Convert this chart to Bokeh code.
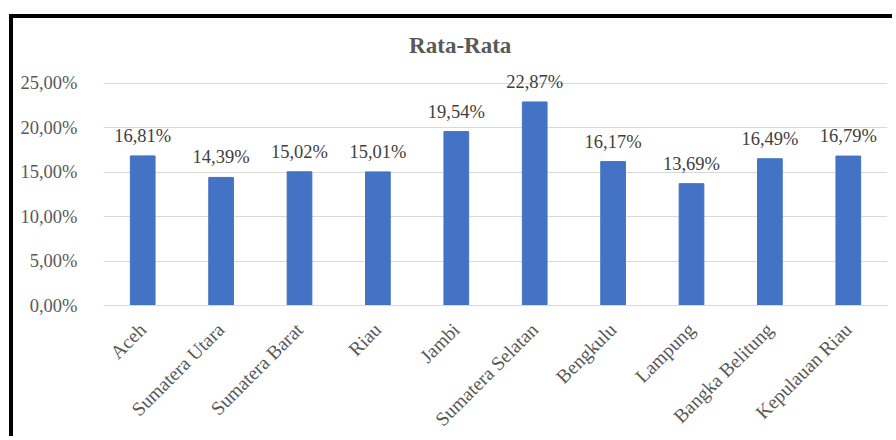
import math
from bokeh.plotting import figure
from bokeh.models import (ColumnDataSource, FactorRange, Range1d, FixedTicker,
                          CustomJSTickFormatter, Label)
from bokeh.core.properties import value
from bokeh.embed import file_html
from bokeh.resources import INLINE

categories = ["Aceh", "Sumatera Utara", "Sumatera Barat", "Riau", "Jambi",
              "Sumatera Selatan", "Bengkulu", "Lampung", "Bangka Belitung",
              "Kepulauan Riau"]
values = [16.81, 14.39, 15.02, 15.01, 19.54, 22.87, 16.17, 13.69, 16.49, 16.79]
y_ticks = [0, 5, 10, 15, 20, 25]
title_text = "Rata-Rata"

labels = [f"{v:.2f}".replace(".", ",") + "%" for v in values]
src = ColumnDataSource(dict(cat=categories, val=values, lab=labels))

FONT = "Liberation Serif"

p = figure(width=883, height=422, output_backend="svg", toolbar_location=None,
           x_range=FactorRange(*categories, range_padding=0),
           y_range=Range1d(0, 30.9),
           min_border_left=90, min_border_right=9,
           min_border_top=12, min_border_bottom=131)
p.margin = (14, 0, 0, 9)
p.styles = {"border-top": "4px solid black", "border-left": "4px solid black"}
p.x_range.factor_padding = 0
p.outline_line_color = None
p.background_fill_color = "white"
p.border_fill_color = "white"

p.vbar(x="cat", top="val", width=0.315, source=src,
       fill_color="#4472C4", line_color="#4472C4")

p.text(x="cat", y="val", text="lab", source=src, text_align="center",
       text_baseline="alphabetic", y_offset=-20,
       text_font_size="18.5px", text_color="#404040",
       text_font=value(FONT))

# axes
p.yaxis.ticker = FixedTicker(ticks=y_ticks)
p.yaxis.formatter = CustomJSTickFormatter(
    code="return tick.toFixed(2).replace('.', ',') + '%';")
p.yaxis.axis_line_color = None
p.yaxis.major_tick_line_color = None
p.yaxis.minor_tick_line_color = None
p.yaxis.major_label_text_font = FONT
p.yaxis.major_label_text_font_size = "18.5px"
p.yaxis.major_label_text_color = "#595959"
p.yaxis.major_label_standoff = 20

p.xaxis.axis_line_color = "#D9D9D9"
p.xaxis.major_tick_line_color = None
p.xaxis.minor_tick_line_color = None
p.xaxis.major_label_orientation = math.pi / 4
p.xaxis.major_label_text_font = FONT
p.xaxis.major_label_text_font_size = "19.5px"
p.xaxis.major_label_text_color = "#595959"
p.xaxis.major_label_standoff = 15

p.xgrid.grid_line_color = None
p.ygrid.grid_line_color = "#D9D9D9"
p.ygrid.grid_line_width = 1

p.add_layout(Label(x=4.55, y=29.25, text=title_text, text_align="center",
                   text_baseline="middle", text_font=FONT,
                   text_font_size="23px", text_font_style="bold",
                   text_color="#595959"))

open("out.html", "w").write(file_html(p, INLINE))
